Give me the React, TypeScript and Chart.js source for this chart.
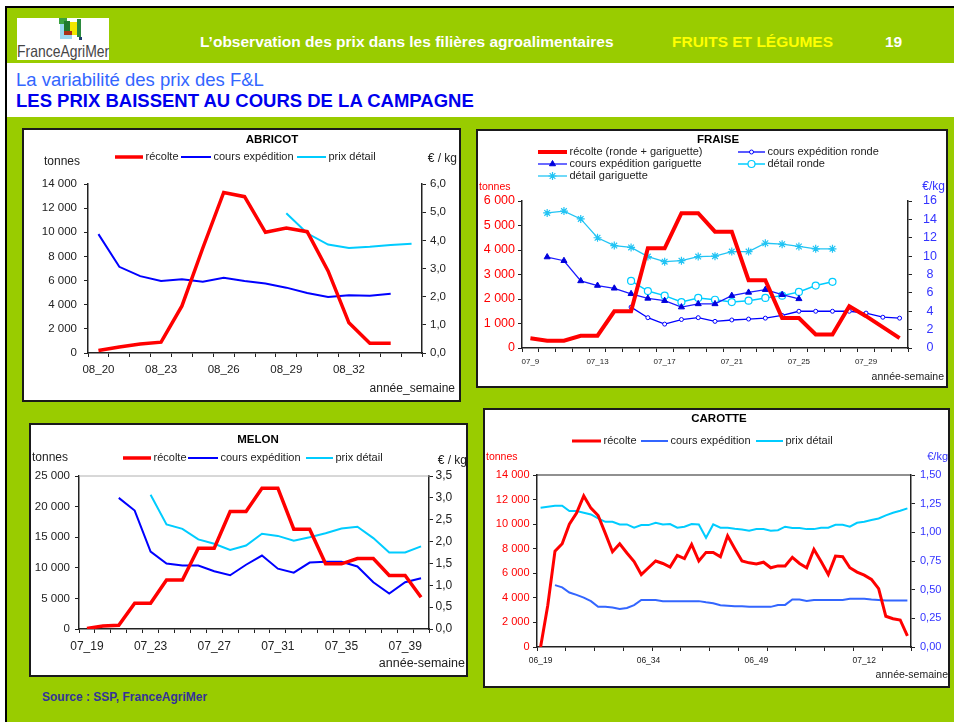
import React, { useEffect, useRef } from 'react';
import { Chart, registerables } from 'chart.js';

Chart.register(...registerables);

const FONT = '"Liberation Sans", Arial, Helvetica, sans-serif';
Chart.defaults.font.family = FONT;

// ---------------- DATA ----------------
// ABRICOT
const abricotWeeks = ['08_20', '08_21', '08_22', '08_23', '08_24', '08_25', '08_26', '08_27', '08_28', '08_29', '08_30', '08_31', '08_32', '08_33', '08_34', '08_35'];
const abricotTickLabels = ['08_20', '08_23', '08_26', '08_29', '08_32'];
const abricotRecolte = [200, 500, 750, 900, 3900, 8700, 13300, 12950, 10000, 10350, 10050, 6800, 2500, 800, 800, null];
const abricotExpedition = [4.22, 3.06, 2.73, 2.56, 2.62, 2.53, 2.67, 2.56, 2.47, 2.32, 2.13, 1.99, 2.05, 2.03, 2.1, null];
const abricotDetail = [null, null, null, null, null, null, null, null, null, 4.96, 4.25, 3.85, 3.73, 3.77, 3.83, 3.88];

// FRAISE
const fraiseWeeks = ['07_9', '07_10', '07_11', '07_12', '07_13', '07_14', '07_15', '07_16', '07_17', '07_18', '07_19', '07_20', '07_21', '07_22', '07_23', '07_24', '07_25', '07_26', '07_27', '07_28', '07_29', '07_30', '07_31'];
const fraiseTickLabels = ['07_9', '07_13', '07_17', '07_21', '07_25', '07_29'];
const fraiseRecolte = [400, 300, 300, 500, 500, 1500, 1500, 4070, 4070, 5500, 5500, 4750, 4750, 2770, 2770, 1220, 1220, 550, 550, 1700, 1300, 850, 400];
const fraiseExpRonde = [null, null, null, null, null, null, 4.45, 3.3, 2.6, 3.1, 3.3, 2.9, 3.05, 3.15, 3.25, 3.55, 4.0, 4.0, 4.0, 4.0, 3.8, 3.35, 3.25];
const fraiseExpGariguette = [null, 9.9, 9.5, 7.3, 6.8, 6.5, 5.9, 5.4, 5.15, 4.45, 4.8, 4.8, 5.7, 6.05, 6.35, 5.8, 5.35, null, null, null, null, null, null];
const fraiseDetRonde = [null, null, null, null, null, null, 7.3, 6.2, 5.7, 5.0, 5.45, 5.25, 5.0, 5.15, 5.45, 5.7, 6.1, 6.8, 7.2, null, null, null, null];
const fraiseDetGariguette = [null, 14.7, 14.9, 14.05, 12.0, 11.15, 10.95, 9.95, 9.4, 9.5, 9.95, 10.0, 10.5, 10.5, 11.4, 11.3, 11.05, 10.8, 10.8, null, null, null, null];

// MELON
const melonWeeks = ['07_19', '07_20', '07_21', '07_22', '07_23', '07_24', '07_25', '07_26', '07_27', '07_28', '07_29', '07_30', '07_31', '07_32', '07_33', '07_34', '07_35', '07_36', '07_37', '07_38', '07_39', '07_40'];
const melonTickLabels = ['07_19', '07_23', '07_27', '07_31', '07_35', '07_39'];
const melonRecolte = [100, 500, 600, 4200, 4200, 8000, 8000, 13200, 13200, 19200, 19200, 23000, 23000, 16300, 16300, 10650, 10650, 11500, 11500, 8750, 8750, 5200];
const melonExpedition = [null, null, 3.0, 2.71, 1.77, 1.5, 1.45, 1.45, 1.32, 1.23, 1.47, 1.68, 1.38, 1.29, 1.52, 1.54, 1.54, 1.43, 1.07, 0.81, 1.07, 1.16];
const melonDetail = [null, null, null, null, 3.07, 2.39, 2.29, 2.05, 1.95, 1.81, 1.91, 2.18, 2.13, 2.02, 2.1, 2.19, 2.3, 2.34, 2.08, 1.75, 1.75, 1.89];

// CAROTTE
const carotteWeeks = [
  '06_19', '06_20', '06_21', '06_22', '06_23', '06_24', '06_25', '06_26', '06_27', '06_28', '06_29', '06_30', '06_31', '06_32', '06_33', '06_34', '06_35',
  '06_36', '06_37', '06_38', '06_39', '06_40', '06_41', '06_42', '06_43', '06_44', '06_45', '06_46', '06_47', '06_48', '06_49', '06_50', '06_51', '06_52',
  '07_1', '07_2', '07_3', '07_4', '07_5', '07_6', '07_7', '07_8', '07_9', '07_10', '07_11', '07_12', '07_13', '07_14', '07_15', '07_16', '07_17', '07_18',
];
const carotteTickLabels = ['06_19', '06_34', '06_49', '07_12'];
const carotteRecolte = [
  0, 3400, 7800, 8400, 10000, 10900, 12300, 11300, 10700, 9250,
  7750, 8400, 7650, 6950, 5900, 6450, 7000, 6800, 6500, 7450,
  7200, 8350, 7000, 7700, 7700, 7350, 9050, 8000, 7000, 6850,
  6750, 6900, 6450, 6600, 6600, 7300, 6800, 6450, 7950, 6950,
  5900, 7400, 7350, 6450, 6100, 5850, 5500, 4750, 2500, 2300,
  2200, 900,
];
const carotteExpedition = [
  null, null, 0.54, 0.52, 0.475, 0.455, 0.43, 0.4, 0.35, 0.35,
  0.345, 0.332, 0.34, 0.365, 0.41, 0.41, 0.41, 0.4, 0.4, 0.4,
  0.4, 0.4, 0.4, 0.39, 0.382, 0.365, 0.36, 0.355, 0.355, 0.35,
  0.35, 0.35, 0.35, 0.367, 0.367, 0.414, 0.414, 0.402, 0.41, 0.41,
  0.41, 0.41, 0.41, 0.42, 0.42, 0.42, 0.414, 0.41, 0.405, 0.405,
  0.405, 0.405,
];
const carotteDetail = [
  1.215, 1.223, 1.232, 1.232, 1.185, 1.185, 1.171, 1.156, 1.121, 1.092,
  1.092, 1.069, 1.069, 1.04, 1.063, 1.063, 1.083, 1.069, 1.072, 1.04,
  1.049, 1.072, 1.069, 0.952, 1.069, 1.04, 1.04, 1.031, 1.025, 1.014,
  1.028, 1.028, 1.014, 1.019, 1.049, 1.037, 1.037, 1.028, 1.028, 1.04,
  1.04, 1.066, 1.066, 1.049, 1.083, 1.092, 1.107, 1.121, 1.148, 1.171,
  1.188, 1.209,
];

// ---------------- STYLE ----------------
const AXIS = '#222222';
const RED = '#ff0000';
const BLUE = '#0000ff';
const BLUE2 = '#3366ff';
const CYAN = '#00ccff';
const TICK_BLUE = '#3333ff';
const GREEN = '#99cc00';

const fmtK = (v: any) => String(Math.round(Number(v))).replace(/\B(?=(\d{3})+(?!\d))/g, ' ');
const fmtDec = (d: number) => (v: any) => Number(v).toFixed(d).replace('.', ',');

type TextItem = { text: string; x: number; y: number; size: number; bold?: boolean; color?: string; align?: CanvasTextAlign };
type LegendItem = { ds: number; x: number; y: number; len: number; text: string };

function drawMarker(ctx: CanvasRenderingContext2D, style: string, x: number, y: number, r: number, fill: string, stroke: string, lw: number) {
  ctx.save();
  ctx.beginPath();
  ctx.lineWidth = lw;
  ctx.strokeStyle = stroke;
  ctx.fillStyle = fill;
  if (style === 'circle') {
    ctx.arc(x, y, r, 0, Math.PI * 2);
    ctx.fill();
    ctx.stroke();
  } else if (style === 'triangle') {
    let rad = 0;
    ctx.moveTo(x + Math.sin(rad) * r, y - Math.cos(rad) * r);
    rad += (Math.PI * 2) / 3;
    ctx.lineTo(x + Math.sin(rad) * r, y - Math.cos(rad) * r);
    rad += (Math.PI * 2) / 3;
    ctx.lineTo(x + Math.sin(rad) * r, y - Math.cos(rad) * r);
    ctx.closePath();
    ctx.fill();
    ctx.stroke();
  } else if (style === 'star') {
    for (let k = 0; k < 4; k++) {
      const a = (k * Math.PI) / 4;
      ctx.moveTo(x - Math.cos(a) * r, y - Math.sin(a) * r);
      ctx.lineTo(x + Math.cos(a) * r, y + Math.sin(a) * r);
    }
    ctx.stroke();
  }
  ctx.restore();
}

function makeDecor(id: string, texts: TextItem[], legend: LegendItem[], legendSize: number, topLine?: { color: string; width: number }) {
  return {
    id,
    afterDraw(chart: any) {
      const ctx: CanvasRenderingContext2D = chart.ctx;
      ctx.save();
      if (topLine) {
        const a = chart.chartArea;
        ctx.strokeStyle = topLine.color;
        ctx.lineWidth = topLine.width;
        ctx.beginPath();
        ctx.moveTo(a.left, a.top);
        ctx.lineTo(a.right, a.top);
        ctx.stroke();
      }
      ctx.textBaseline = 'middle';
      for (const t of texts) {
        ctx.font = `${t.bold ? 'bold ' : ''}${t.size}px ${FONT}`;
        ctx.fillStyle = t.color || AXIS;
        ctx.textAlign = t.align || 'left';
        ctx.fillText(t.text, t.x, t.y);
      }
      for (const l of legend) {
        const ds = chart.data.datasets[l.ds];
        ctx.strokeStyle = ds.borderColor;
        ctx.lineWidth = ds.borderWidth;
        ctx.beginPath();
        ctx.moveTo(l.x, l.y);
        ctx.lineTo(l.x + l.len, l.y);
        ctx.stroke();
        if (ds.pointRadius > 0 && ds.pointStyle) {
          drawMarker(ctx, ds.pointStyle, l.x + l.len / 2, l.y, ds.pointRadius, ds.pointBackgroundColor || ds.borderColor, ds.pointBorderColor || ds.borderColor, ds.pointBorderWidth || 1);
        }
        ctx.font = `${legendSize}px ${FONT}`;
        ctx.fillStyle = AXIS;
        ctx.textAlign = 'left';
        ctx.fillText(l.text, l.x + l.len + 2.5, l.y);
      }
      ctx.restore();
    },
  };
}

type YOpt = { min: number; max: number; step: number; fmt: (v: any) => string; color: string; size: number; padding: number; width: number; crossAlign?: string };

function axisY(position: 'left' | 'right', o: YOpt) {
  return {
    type: 'linear',
    position,
    min: o.min,
    max: o.max,
    ticks: {
      stepSize: o.step,
      color: o.color,
      font: { size: o.size, family: FONT },
      padding: o.padding,
      autoSkip: false,
      crossAlign: o.crossAlign || 'near',
      callback: (v: any) => o.fmt(v),
    },
    grid: { display: true, drawOnChartArea: false, drawTicks: true, tickLength: 4, tickWidth: 1, tickColor: AXIS },
    border: { display: true, color: AXIS, width: 1.5 },
    afterFit: (s: any) => {
      s.width = o.width;
    },
  };
}

function axisX(labels: string[], shown: string[], o: { size: number; padding: number; height: number; every: number }) {
  return {
    type: 'category',
    offset: true,
    ticks: {
      autoSkip: false,
      maxRotation: 0,
      minRotation: 0,
      color: AXIS,
      font: { size: o.size, family: FONT },
      padding: o.padding,
      callback: (_v: any, i: number) => (shown.includes(labels[i]) ? labels[i] : ''),
    },
    grid: {
      display: true,
      offset: true,
      drawOnChartArea: false,
      drawTicks: true,
      tickLength: 4,
      tickWidth: 1,
      tickColor: (c: any) => (c.type !== 'tick' || c.index % o.every === 0 ? AXIS : 'rgba(0,0,0,0)'),
    },
    border: { display: true, color: AXIS, width: 1.5 },
    afterFit: (s: any) => {
      s.height = o.height;
    },
  };
}

function lineDs(label: string, data: (number | null)[], color: string, width: number, axis: string, extra: any = {}) {
  return {
    label,
    data,
    borderColor: color,
    backgroundColor: color,
    borderWidth: width,
    yAxisID: axis,
    pointRadius: 0,
    fill: false,
    tension: 0,
    ...extra,
  };
}

function baseOptions(padding: any, scales: any) {
  return {
    responsive: false,
    animation: false,
    devicePixelRatio: 1,
    events: [],
    layout: { padding, autoPadding: false },
    plugins: { legend: { display: false }, tooltip: { enabled: false }, title: { display: false } },
    scales,
  };
}

// ---------------- CHART CONFIGS ----------------
function abricotConfig(): any {
  return {
    type: 'line',
    data: {
      labels: abricotWeeks,
      datasets: [
        lineDs('récolte', abricotRecolte, RED, 3.5, 'yL'),
        lineDs('cours expédition', abricotExpedition, BLUE, 2, 'yR'),
        lineDs('prix détail', abricotDetail, CYAN, 2, 'yR'),
      ],
    },
    options: baseOptions(
      { left: 4, right: 4, top: 54, bottom: 21 },
      {
        x: axisX(abricotWeeks, abricotTickLabels, { size: 11.5, padding: 6, height: 26, every: 1 }),
        yL: axisY('left', { min: 0, max: 14000, step: 2000, fmt: fmtK, color: AXIS, size: 11.5, padding: 7, width: 60 }),
        yR: axisY('right', { min: 0, max: 6, step: 1, fmt: fmtDec(1), color: AXIS, size: 11.5, padding: 4, width: 33 }),
      }
    ),
    plugins: [
      makeDecor(
        'decorAbricot',
        [
          { text: 'ABRICOT', x: 248, y: 10, size: 11.5, bold: true, align: 'center', color: '#000' },
          { text: 'tonnes', x: 20, y: 32, size: 12 },
          { text: '€ / kg', x: 433, y: 29, size: 12, align: 'right' },
          { text: 'année_semaine', x: 431, y: 259, size: 12, align: 'right' },
        ],
        [
          { ds: 0, x: 91, y: 27, len: 28, text: 'récolte' },
          { ds: 1, x: 157, y: 27, len: 30, text: 'cours expédition' },
          { ds: 2, x: 273, y: 27, len: 29, text: 'prix détail' },
        ],
        11
      ),
    ],
  };
}

function fraiseConfig(): any {
  return {
    type: 'line',
    data: {
      labels: fraiseWeeks,
      datasets: [
        lineDs('récolte (ronde + gariguette)', fraiseRecolte, RED, 4, 'yL'),
        lineDs('cours expédition ronde', fraiseExpRonde, BLUE, 1.3, 'yR', {
          pointRadius: 2, pointStyle: 'circle', pointBackgroundColor: '#ffffff', pointBorderColor: BLUE, pointBorderWidth: 1,
        }),
        lineDs('cours expédition gariguette', fraiseExpGariguette, '#1a1aff', 1.3, 'yR', {
          pointRadius: 3.5, pointStyle: 'triangle', pointBackgroundColor: '#0000dd', pointBorderColor: '#0000dd', pointBorderWidth: 1,
        }),
        lineDs('détail ronde', fraiseDetRonde, CYAN, 1.5, 'yR', {
          pointRadius: 3.5, pointStyle: 'circle', pointBackgroundColor: '#ffffff', pointBorderColor: CYAN, pointBorderWidth: 1.2,
        }),
        lineDs('détail gariguette', fraiseDetGariguette, '#22c4f4', 1.3, 'yR', {
          pointRadius: 4, pointStyle: 'star', pointBackgroundColor: '#22c4f4', pointBorderColor: '#22c4f4', pointBorderWidth: 1.2,
        }),
      ],
    },
    options: baseOptions(
      { left: 4, right: 4, top: 70, bottom: 18 },
      {
        x: axisX(fraiseWeeks, fraiseTickLabels, { size: 8, padding: 5, height: 20, every: 1 }),
        yL: axisY('left', { min: 0, max: 6000, step: 1000, fmt: fmtK, color: RED, size: 12.5, padding: 3, width: 40 }),
        yR: axisY('right', { min: 0, max: 16, step: 2, fmt: (v: any) => String(Math.round(Number(v))), color: TICK_BLUE, size: 12.5, padding: 11, width: 34, crossAlign: 'center' }),
      }
    ),
    plugins: [
      makeDecor(
        'decorFraise',
        [
          { text: 'FRAISE', x: 240, y: 9, size: 11.5, bold: true, align: 'center', color: '#000' },
          { text: 'tonnes', x: 1, y: 56.5, size: 10.5, color: RED },
          { text: '€/kg', x: 467, y: 56, size: 12, align: 'right', color: TICK_BLUE },
          { text: 'année-semaine', x: 466, y: 246, size: 10.5, align: 'right' },
        ],
        [
          { ds: 0, x: 60, y: 21, len: 29, text: 'récolte (ronde + gariguette)' },
          { ds: 1, x: 260, y: 21, len: 27, text: 'cours expédition ronde' },
          { ds: 2, x: 60, y: 33, len: 29, text: 'cours expédition gariguette' },
          { ds: 3, x: 260, y: 33, len: 27, text: 'détail ronde' },
          { ds: 4, x: 60, y: 45, len: 29, text: 'détail gariguette' },
        ],
        11
      ),
    ],
  };
}

function melonConfig(): any {
  return {
    type: 'line',
    data: {
      labels: melonWeeks,
      datasets: [
        lineDs('récolte', melonRecolte, RED, 3.5, 'yL'),
        lineDs('cours expédition', melonExpedition, BLUE, 2, 'yR'),
        lineDs('prix détail', melonDetail, CYAN, 2, 'yR'),
      ],
    },
    options: baseOptions(
      { left: 4, right: 4, top: 51, bottom: 18 },
      {
        x: axisX(melonWeeks, melonTickLabels, { size: 12, padding: 6, height: 28, every: 1 }),
        yL: axisY('left', { min: 0, max: 25000, step: 5000, fmt: fmtK, color: AXIS, size: 11.5, padding: 5, width: 44 }),
        yR: axisY('right', { min: 0, max: 3.5, step: 0.5, fmt: fmtDec(1), color: AXIS, size: 12, padding: 2.5, width: 33 }),
      }
    ),
    plugins: [
      makeDecor(
        'decorMelon',
        [
          { text: 'MELON', x: 227, y: 15, size: 11.5, bold: true, align: 'center', color: '#000' },
          { text: 'tonnes', x: 1, y: 33, size: 12 },
          { text: '€ / kg', x: 436, y: 36, size: 12, align: 'right' },
          { text: 'année-semaine', x: 434, y: 239, size: 12.5, align: 'right' },
        ],
        [
          { ds: 0, x: 92, y: 33, len: 28, text: 'récolte' },
          { ds: 1, x: 157, y: 33, len: 30, text: 'cours expédition' },
          { ds: 2, x: 275, y: 33, len: 27, text: 'prix détail' },
        ],
        11,
        { color: '#b0b0b0', width: 1 }
      ),
    ],
  };
}

function carotteConfig(): any {
  return {
    type: 'line',
    data: {
      labels: carotteWeeks,
      datasets: [
        lineDs('récolte', carotteRecolte, RED, 3, 'yL'),
        lineDs('cours expédition', carotteExpedition, BLUE2, 2, 'yR'),
        lineDs('prix détail', carotteDetail, CYAN, 2, 'yR'),
      ],
    },
    options: baseOptions(
      { left: 4, right: 4, top: 65, bottom: 17 },
      {
        x: axisX(carotteWeeks, carotteTickLabels, { size: 8.5, padding: 5, height: 22, every: 4 }),
        yL: axisY('left', { min: 0, max: 14000, step: 2000, fmt: fmtK, color: RED, size: 11, padding: 3.5, width: 48 }),
        yR: axisY('right', { min: 0, max: 1.5, step: 0.25, fmt: fmtDec(2), color: TICK_BLUE, size: 11, padding: 5, width: 33 }),
      }
    ),
    plugins: [
      makeDecor(
        'decorCarotte',
        [
          { text: 'CAROTTE', x: 234, y: 9, size: 11.5, bold: true, align: 'center', color: '#000' },
          { text: 'tonnes', x: 1, y: 47, size: 10.5, color: RED },
          { text: '€/kg', x: 463, y: 47, size: 11, align: 'right', color: TICK_BLUE },
          { text: 'année-semaine', x: 463, y: 265, size: 10.5, align: 'right' },
        ],
        [
          { ds: 0, x: 87, y: 31, len: 29, text: 'récolte' },
          { ds: 1, x: 156, y: 31, len: 27, text: 'cours expédition' },
          { ds: 2, x: 271, y: 31, len: 27, text: 'prix détail' },
        ],
        11,
        { color: AXIS, width: 1.2 }
      ),
    ],
  };
}

// ---------------- COMPONENTS ----------------
function ChartPanel({ left, top, width, height, build }: { left: number; top: number; width: number; height: number; build: () => any }) {
  const ref = useRef<HTMLCanvasElement | null>(null);
  useEffect(() => {
    if (!ref.current) return;
    const chart = new Chart(ref.current, build());
    return () => chart.destroy();
  }, []);
  const w = width - 4;
  const h = height - 4;
  return (
    <div style={{ position: 'absolute', left, top, width, height, boxSizing: 'border-box', border: '2px solid #1a1a1a', background: '#fff' }}>
      <canvas ref={ref} width={w} height={h} style={{ display: 'block', width: w, height: h }} />
    </div>
  );
}

function Txt({ x, baseline, size, bold, color, children, scaleX }: { x: number; baseline: number; size: number; bold?: boolean; color: string; children: any; scaleX?: number }) {
  return (
    <div
      style={{
        position: 'absolute',
        left: x,
        top: baseline - 0.8465 * size,
        fontSize: size,
        lineHeight: `${size}px`,
        fontWeight: bold ? 'bold' : 'normal',
        color,
        whiteSpace: 'nowrap',
        transform: scaleX ? `scaleX(${scaleX})` : undefined,
        transformOrigin: 'left center',
      }}
    >
      {children}
    </div>
  );
}

const box = (left: number, top: number, width: number, height: number, background: string) => (
  <div style={{ position: 'absolute', left, top, width, height, background }} />
);

export default function App() {
  return (
    <div style={{ position: 'fixed', left: 0, top: 0, width: 954, height: 722, overflow: 'hidden', background: '#fff', fontFamily: FONT }}>
      <div style={{ position: 'absolute', left: 5, top: 6, width: 949, height: 716, boxSizing: 'border-box', borderTop: '2px solid #000', borderLeft: '2px solid #000', background: GREEN }} />
      {box(7, 63, 947, 54, '#ffffff')}

      {/* logo */}
      {box(17, 18, 92, 42, '#ffffff')}
      {box(60, 24, 12, 15, '#9ad8f2')}
      {box(59, 18, 8, 6, '#3aa23f')}
      {box(64, 21, 6, 10, '#1f7a30')}
      {box(70, 22, 8, 13, '#f2e600')}
      {box(77, 19, 4, 18, '#2b8a3e')}
      {box(64, 31, 8, 4, '#a8321a')}
      {box(79, 37, 3, 3, '#1c3f6e')}
      <Txt x={17} baseline={57} size={16.5} color="#454545" scaleX={0.845}>FranceAgriMer</Txt>

      <Txt x={200} baseline={47.3} size={15.5} bold color="#ffffff">L’observation des prix dans les filières agroalimentaires</Txt>
      <Txt x={672} baseline={47.3} size={15.5} bold color="#ffff00">FRUITS ET LÉGUMES</Txt>
      <Txt x={885} baseline={47.3} size={15.5} bold color="#ffffff">19</Txt>

      <Txt x={16} baseline={86.3} size={18.5} color="#3366ff">La variabilité des prix des F&amp;L</Txt>
      <Txt x={16} baseline={108} size={18.5} bold color="#0000ee">LES PRIX BAISSENT AU COURS DE LA CAMPAGNE</Txt>

      <ChartPanel left={22} top={128} width={439} height={274} build={abricotConfig} />
      <ChartPanel left={476} top={129} width={472} height={259} build={fraiseConfig} />
      <ChartPanel left={29} top={423} width={439} height={254} build={melonConfig} />
      <ChartPanel left={483} top={408} width={467} height={280} build={carotteConfig} />

      <Txt x={42} baseline={700.7} size={12} bold color="#333399">Source : SSP, FranceAgriMer</Txt>
    </div>
  );
}
